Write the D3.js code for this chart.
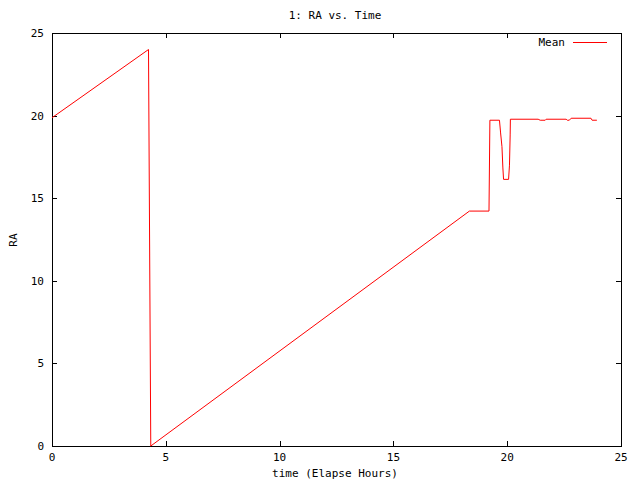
<!DOCTYPE html>
<html><head><meta charset="utf-8">
<script src="https://cdn.jsdelivr.net/npm/d3@7"></script>
<style>body{margin:0;background:#fff}svg{display:block}text{font-family:"DejaVu Sans Mono",monospace;font-size:11px;fill:#000}</style>
</head><body><svg id="c" width="640" height="480"></svg>
<script>
const titleText = "1: RA vs. Time";
const xLabel = "time (Elapse Hours)";
const yLabel = "RA";
const seriesName = "Mean";
const xTicks = [0, 5, 10, 15, 20, 25];
const yTicks = [0, 5, 10, 15, 20, 25];
const time = [0, 4.24, 4.34, 18.34, 19.20, 19.24, 19.66, 19.71, 19.77, 19.81, 19.84, 20.06, 20.10, 20.13, 20.14, 21.36, 21.45, 21.67, 21.71, 22.59, 22.64, 22.73, 22.81, 23.68, 23.73, 23.94];
const ra =   [19.87, 24.0, 0, 14.22, 14.22, 19.72, 19.72, 18.95, 18.12, 16.83, 16.14, 16.14, 17.0, 18.83, 19.78, 19.78, 19.72, 19.72, 19.78, 19.78, 19.72, 19.72, 19.84, 19.84, 19.72, 19.72];

const svg = d3.select("#c");
const L = 52, R = 621, T = 33, B = 446;
const x = d3.scaleLinear().domain([0, 25]).range([L, R]);
const y = d3.scaleLinear().domain([0, 25]).range([B, T]);

const axes = svg.append("g").attr("shape-rendering", "crispEdges");
axes.append("rect").attr("x", L + 0.5).attr("y", T + 0.5).attr("width", R - L).attr("height", B - T)
  .attr("fill", "none").attr("stroke", "#000");
xTicks.forEach(t => {
  const px = Math.round(x(t)) + 0.5;
  if (t > 0 && t < 25) {
    axes.append("line").attr("x1", px).attr("x2", px).attr("y1", B).attr("y2", B - 5).attr("stroke", "#000");
    axes.append("line").attr("x1", px).attr("x2", px).attr("y1", T).attr("y2", T + 5).attr("stroke", "#000");
  }
  svg.append("text").attr("x", x(t)).attr("y", B + 15).attr("text-anchor", "middle").text(t);
});
yTicks.forEach(t => {
  const py = Math.round(y(t)) + 0.5;
  if (t > 0 && t < 25) {
    axes.append("line").attr("x1", L).attr("x2", L + 5).attr("y1", py).attr("y2", py).attr("stroke", "#000");
    axes.append("line").attr("x1", R).attr("x2", R - 5).attr("y1", py).attr("y2", py).attr("stroke", "#000");
  }
  svg.append("text").attr("x", 44).attr("y", y(t) + 4).attr("text-anchor", "end").text(t);
});

svg.append("text").attr("x", 335).attr("y", 19).attr("text-anchor", "middle").text(titleText);
svg.append("text").attr("x", 335).attr("y", 477).attr("text-anchor", "middle").text(xLabel);
svg.append("text").attr("transform", "translate(17,240) rotate(-90)").attr("text-anchor", "middle").text(yLabel);

const line = d3.line().x((d, i) => x(time[i])).y((d, i) => y(ra[i]));
svg.append("path").datum(ra).attr("d", line).attr("fill", "none").attr("stroke", "#ff0000").attr("stroke-width", 1);

svg.append("text").attr("x", 565).attr("y", 46).attr("text-anchor", "end").text(seriesName);
svg.append("line").attr("x1", 573).attr("x2", 607).attr("y1", 42.5).attr("y2", 42.5).attr("stroke", "#ff0000").attr("shape-rendering", "crispEdges");
</script></body></html>
